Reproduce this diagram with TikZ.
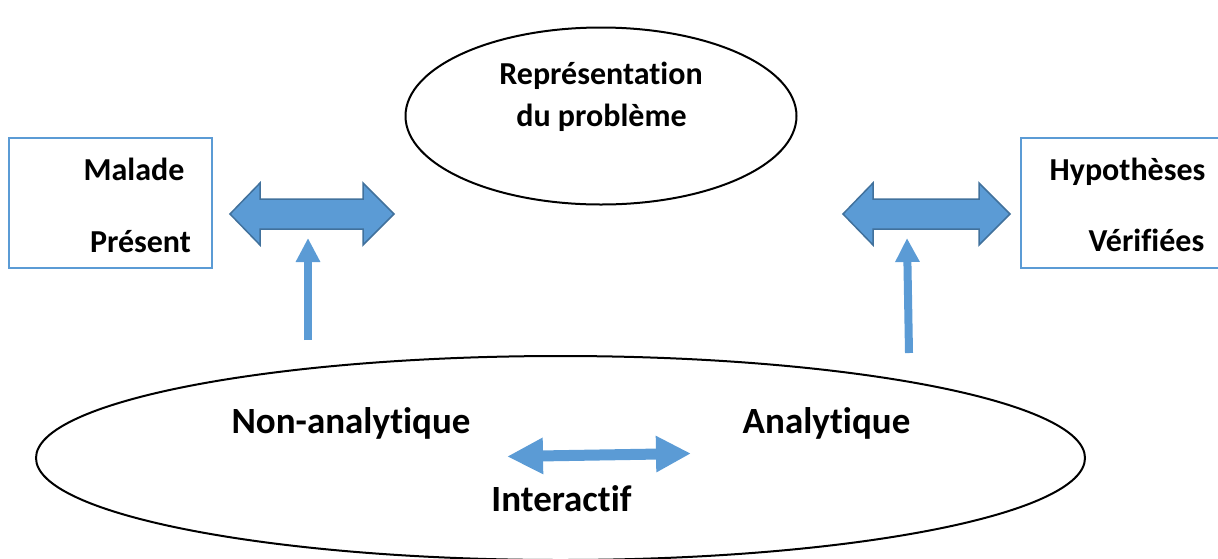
\documentclass[tikz,border=0pt]{standalone}
\usepackage{fontspec}
\setmainfont[Ligatures={NoCommon,NoContextual},Contextuals=NoAlternate]{Carlito}
\usetikzlibrary{shapes.geometric,arrows.meta}
\definecolor{abl}{HTML}{5B9BD5}
\definecolor{abd}{HTML}{41719C}
\begin{document}
\begin{tikzpicture}[x=1pt,y=-1pt,
  txt/.style={anchor=base,inner sep=0pt,font=\bfseries\fontsize{32}{38}\selectfont},
  bigtxt/.style={anchor=base,inner sep=0pt,font=\bfseries\fontsize{37}{44}\selectfont},
  oval/.style={draw=black,line width=2pt,ellipse,inner sep=0pt},
  bluebox/.style={draw=abl,line width=2.2pt,rectangle,inner sep=0pt},
  dblarrow/.style={fill=abl,draw=abd,line width=1.5pt,line join=miter},
  uparrow/.style={draw=abl,line width=8pt,-{Triangle[width=23pt,length=24pt]}},
  iarrow/.style={draw=abl,line width=11pt,{Triangle[width=34pt,length=36pt]}-{Triangle[width=34pt,length=35pt]}}]
\useasboundingbox (0,0) rectangle (1218,558);
% top ellipse
\node[oval,minimum width=391pt,minimum height=177pt] (rep) at (601,116) {};
\node[txt] (rep1) at (601,84) {Représentation};
\node[txt] (rep2) at (601.5,126) {du problème};
% boxes
\node[bluebox,minimum width=203pt,minimum height=130pt] (mal) at (110.5,203) {};
\node[txt] (mal1) at (134,180) {Malade};
\node[txt] (mal2) at (140.5,252) {Présent};
\node[bluebox,minimum width=203pt,minimum height=130pt] (hyp) at (1122.5,203) {};
\node[txt] (hyp1) at (1127.5,180) {Hypothèses};
\node[txt] (hyp2) at (1146.5,251) {Vérifiées};
% bottom ellipse
\node[oval,minimum width=1049pt,minimum height=204pt] (proc) at (560.5,458) {};
\node[bigtxt] (nonan) at (351,433) {Non-analytique};
\node[bigtxt] (an) at (826.5,433) {Analytique};
\node[bigtxt] (inter) at (561.5,511) {Interactif};
% double block arrows
\draw[dblarrow] (230,214) -- (260,183) -- (260,199) -- (363,199) -- (363,183) -- (394,214)
  -- (363,245) -- (363,229) -- (260,229) -- (260,245) -- cycle;
\draw[dblarrow] (843,214) -- (873,183) -- (873,199) -- (979,199) -- (979,183) -- (1010,214)
  -- (979,245) -- (979,229) -- (873,229) -- (873,245) -- cycle;
% up arrows
\coordinate (lu1) at (308,340);
\coordinate (lu2) at (308,238);
\coordinate (ru1) at (909,353);
\coordinate (ru2) at (907,238);
\draw[uparrow] (lu1) -- (lu2);
\draw[uparrow] (ru1) -- (ru2);
% interactif arrow
\coordinate (ia1) at (507,456.5);
\coordinate (ia2) at (691,453.5);
\draw[iarrow] (ia1) -- (ia2);
\end{tikzpicture}
\end{document}
